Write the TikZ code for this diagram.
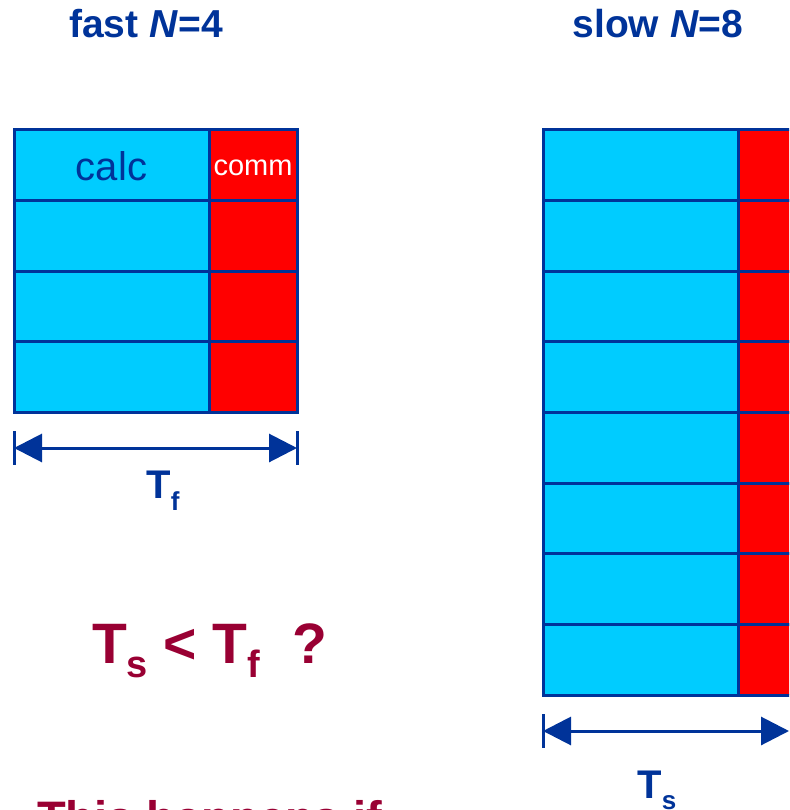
\documentclass[tikz,border=0pt]{standalone}
\usepackage{fontspec}
\setmainfont{Liberation Sans}
\usetikzlibrary{arrows.meta}
\definecolor{calcblue}{RGB}{0,204,255}
\definecolor{commred}{RGB}{255,0,0}
\definecolor{edgeblue}{RGB}{0,51,153}
\definecolor{askred}{RGB}{153,0,51}
\newcommand{\dimsub}[2]{\raisebox{-#1}{\fontsize{26}{30}\selectfont #2}}
\tikzset{
  calccell/.style={fill=calcblue, draw=edgeblue, line width=3pt},
  commcell/.style={fill=commred, draw=edgeblue, line width=3pt},
  title/.style={anchor=base, inner sep=0pt, text=edgeblue,
    font=\fontsize{39}{46}\selectfont\bfseries},
  calctext/.style={anchor=base, inner sep=0pt, text=edgeblue,
    font=\fontsize{40}{48}\selectfont},
  commtext/.style={anchor=base, inner sep=0pt, text=white,
    font=\fontsize{29}{34}\selectfont},
  span/.style={{Triangle[length=28pt,width=28pt]}-{Triangle[length=28pt,width=28pt]},
    line width=3pt, draw=edgeblue, fill=edgeblue},
  tick/.style={line width=3pt, draw=edgeblue},
  dimlabel/.style={anchor=base, inner sep=0pt, text=edgeblue,
    font=\fontsize{40}{48}\selectfont\bfseries},
  ask/.style={anchor=base, inner sep=0pt, text=askred,
    font=\fontsize{57}{66}\selectfont\bfseries}
}

\begin{document}
\begin{tikzpicture}[x=1pt, y=-1pt]
  \useasboundingbox (0,0) rectangle (789,810);
  \clip (0,0) rectangle (789,810);

  % titles
  \node[title] (fast) at (146,38) {fast \textit{N}=4};
  \node[title] (slow) at (658,38) {slow \textit{N}=8};

  % fast run: four steps
  \foreach \i in {0,...,3} {
    \draw[calccell] (14,{130+70.5*\i}) rectangle (209,{200.5+70.5*\i});
    \draw[commcell] (209,{130+70.5*\i}) rectangle (297,{200.5+70.5*\i});
  }
  \node[calctext] (calc) at (111.5,181) {calc};
  \node[commtext] (comm) at (253,176) {comm};

  % slow run: eight steps
  \foreach \i in {0,...,7} {
    \draw[calccell] (543,{130+70.625*\i}) rectangle (738,{200.625+70.625*\i});
    \draw[commcell] (738,{130+70.625*\i}) rectangle (826,{200.625+70.625*\i});
  }

  % time spans
  \coordinate (tfL) at (14,448);
  \coordinate (tfR) at (297,448);
  \draw[tick] ([yshift=17pt]tfL) -- ([yshift=-17pt]tfL);
  \draw[tick] ([yshift=17pt]tfR) -- ([yshift=-17pt]tfR);
  \draw[span] (tfL) -- (tfR);
  \node[dimlabel] (tf) at (163,498) {T\dimsub{12pt}{f}};

  \coordinate (tsL) at (543,731);
  \coordinate (tsR) at (789,731);
  \draw[tick] ([yshift=17pt]tsL) -- ([yshift=-17pt]tsL);
  \draw[span] (tsL) -- (tsR);
  \node[dimlabel] (ts) at (657,798) {T\dimsub{11pt}{s}};

  % question
  \node[ask] (question) at (209.5,663)
    {T\raisebox{-14pt}{\fontsize{38}{44}\selectfont s} {<} T\raisebox{-14pt}{\fontsize{38}{44}\selectfont f}\ \ ?};
  \node[ask, anchor=base west, font=\fontsize{47}{56}\selectfont\bfseries] (cond) at (37,834) {This happens if};
\end{tikzpicture}
\end{document}
